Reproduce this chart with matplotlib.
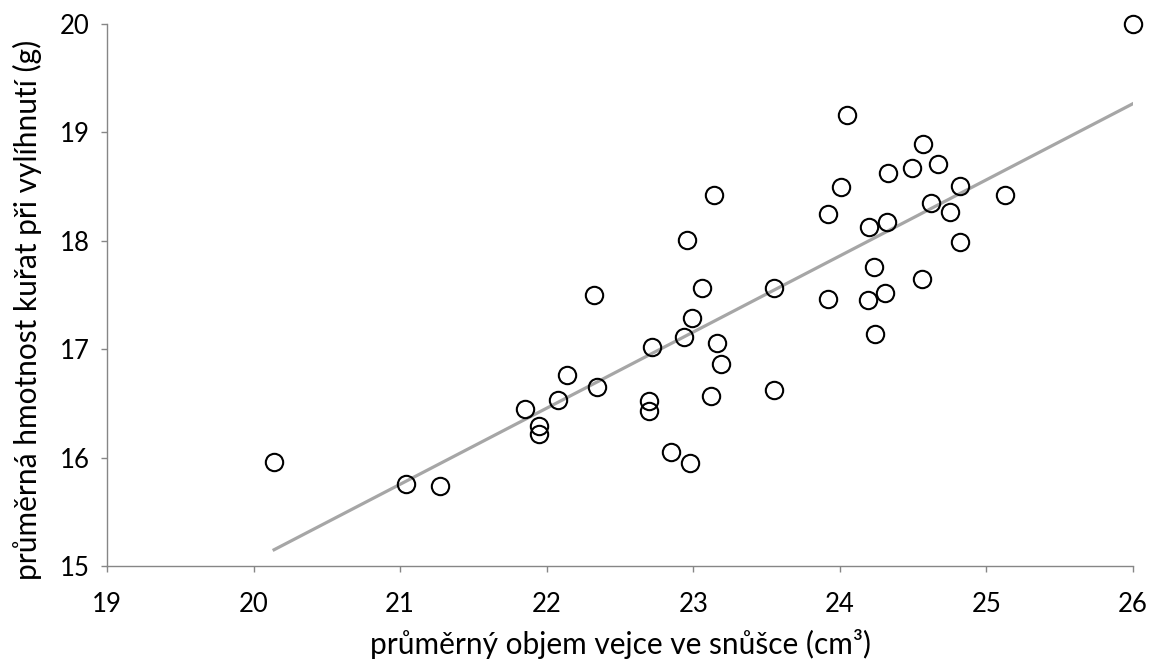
import numpy as np
import matplotlib
matplotlib.use("Agg")
import matplotlib.pyplot as plt

x_vals = [24.05, 24.57, 24.33, 24.49, 24.67, 24.01, 24.82, 25.13, 23.92, 24.62,
          24.75, 24.20, 24.32, 24.82, 24.23, 24.56, 23.92, 24.19, 24.31, 24.24,
          23.14, 22.96, 23.06, 23.55, 22.99, 22.94, 22.72, 23.16, 23.19, 22.70,
          22.70, 23.12, 23.55, 22.85, 22.98,
          22.32, 20.14, 21.04, 21.27, 22.14, 22.34, 22.08, 21.85, 21.95, 21.95,
          26.00]
y_vals = [19.16, 18.89, 18.63, 18.67, 18.71, 18.50, 18.51, 18.42, 18.25, 18.35,
          18.27, 18.13, 18.17, 17.99, 17.76, 17.65, 17.46, 17.45, 17.52, 17.14,
          18.42, 18.01, 17.56, 17.56, 17.29, 17.11, 17.02, 17.06, 16.86, 16.52,
          16.43, 16.57, 16.62, 16.05, 15.95,
          17.50, 15.96, 15.76, 15.74, 16.76, 16.65, 16.53, 16.45, 16.29, 16.22,
          20.00]
x_ticks = [19, 20, 21, 22, 23, 24, 25, 26]
y_ticks = [15, 16, 17, 18, 19, 20]
x_label = "průměrný objem vejce ve snůšce (cm³)"
y_label = "průměrná hmotnost kuřat při vylíhnutí (g)"

plt.rcParams['font.family'] = ['Lato', 'DejaVu Sans']

fig = plt.figure(figsize=(11.53, 6.6), dpi=100)
ax = fig.add_axes([107/1153, 1 - 566/660, (1133-107)/1153, (566-24)/660])

x = np.array(x_vals)
y = np.array(y_vals)
slope, intercept = np.polyfit(x, y, 1)
xl = np.array([x.min(), x.max()])
ax.plot(xl, slope * xl + intercept, color='#A6A6A6', lw=2.3, zorder=2)

ax.plot(x, y, linestyle='none', marker='o', markersize=12.5,
        markerfacecolor='none', markeredgecolor='black', markeredgewidth=1.5,
        zorder=3, clip_on=False)

ax.set_xlim(19, 26)
ax.set_ylim(15, 20)
ax.set_xticks(x_ticks)
ax.set_yticks(y_ticks)
ax.set_xticklabels([str(t) for t in x_ticks])
ax.set_yticklabels([str(t) for t in y_ticks])

for s in ['top', 'right']:
    ax.spines[s].set_visible(False)
for s in ['left', 'bottom']:
    ax.spines[s].set_color('#868686')
    ax.spines[s].set_linewidth(1.0)
ax.tick_params(axis='both', direction='out', length=4.5, width=1.0,
               color='#868686', labelsize=18.5, labelcolor='black')
ax.tick_params(axis='x', pad=14.5)
ax.tick_params(axis='y', pad=8)

ax.set_xlabel(x_label, fontsize=21.5, va='center', ha='center')
ax.set_ylabel(y_label, fontsize=21.5, va='center', ha='center')
ax.xaxis.set_label_coords(0.5, -0.1439)
ax.yaxis.set_label_coords(-0.0775, 0.472)

fig.savefig("out.png", dpi=100)
